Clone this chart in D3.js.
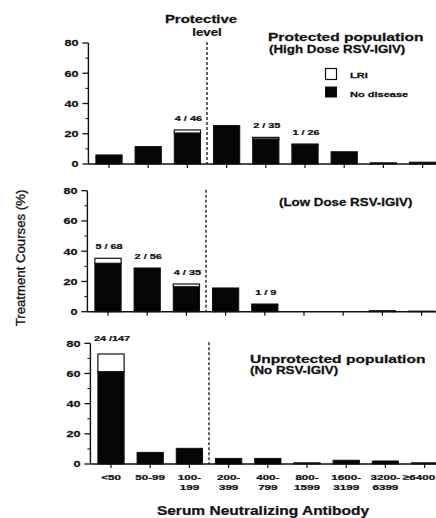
<!DOCTYPE html>
<html>
<head>
<meta charset="utf-8">
<script src="https://cdn.jsdelivr.net/npm/d3@7"></script>
<style>
  html, body { margin: 0; padding: 0; background: #fff; }
  svg { display: block; font-family: "Liberation Sans", Arial, Helvetica, sans-serif; }
</style>
</head>
<body>
<div id="chart"></div>
<script>
// --- data ---
const categories = ["<50", "50-99", "100-199", "200-399", "400-799", "800-1599", "1600-3199", "3200-6399", "≥6400"];

const highNoDisease = [6, 11.5, 20.5, 25.4, 16.6, 12.8, 8.1, 0.8, 1.2];
const highLRI       = [0, 0, 2, 0, 1, 0.4, 0, 0, 0];
const highCounts    = ["", "", "4 / 46", "", "2 / 35", "1 / 26", "", "", ""];

const lowNoDisease = [32, 28.9, 16.5, 15.7, 5.1, 0, 0, 0.7, 0.4];
const lowLRI       = [3.3, 0, 1.8, 0, 0, 0, 0, 0, 0];
const lowCounts    = ["5 / 68", "2 / 56", "4 / 35", "", "1 / 9", "", "", "", ""];

const noneNoDisease = [61.2, 7.7, 10.4, 3.7, 3.7, 0.8, 2.5, 2, 0.8];
const noneLRI       = [11.7, 0, 0, 0, 0, 0, 0, 0, 0];
const noneCounts    = ["24 /147", "", "", "", "", "", "", "", ""];

const yTicks = [0, 20, 40, 60, 80];
const yMinorTicks = [10, 30, 50, 70];

// --- layout ---
const W = 436, H = 518;
const ink = "#111";

const svg = d3.select("#chart").append("svg")
  .attr("width", W)
  .attr("height", H);

// text with the horizontal stretch of the scanned original
function txt(parent, x, y, s, size, opts = {}) {
  const { weight = "bold", anchor = "start", sx = 1.4 } = opts;
  return parent.append("text")
    .attr("transform", `translate(${x},${y}) scale(${sx},1)`)
    .attr("text-anchor", anchor)
    .attr("font-size", size)
    .attr("font-weight", weight)
    .attr("fill", ink)
    .attr("stroke", ink)
    .attr("stroke-width", 0.25)
    .text(s);
}

const x = d3.scaleBand()
  .domain(categories)
  .range([89.4, 442.2])
  .paddingInner(0.33)
  .paddingOuter(0.165);

const panels = [
  { nd: highNoDisease, lri: highLRI, counts: highCounts, top: 43, bottom: 164, dx: 0 },
  { nd: lowNoDisease, lri: lowLRI, counts: lowCounts, top: 190.7, bottom: 311.7, dx: -1 },
  { nd: noneNoDisease, lri: noneLRI, counts: noneCounts, top: 343.3, bottom: 464, dx: 2 }
];

panels.forEach((p, pi) => {
  const g = svg.append("g").attr("transform", `translate(${p.dx},0)`);
  const y = d3.scaleLinear().domain([0, 80]).range([p.bottom, p.top]);
  const x0 = x.range()[0] - 1;

  // y axis
  g.append("line")
    .attr("x1", x0).attr("x2", x0)
    .attr("y1", y(80)).attr("y2", y(0))
    .attr("stroke", ink).attr("stroke-width", 1.4);
  g.selectAll(".ymaj").data(yTicks).join("line")
    .attr("x1", x0 - 6).attr("x2", x0)
    .attr("y1", d => y(d)).attr("y2", d => y(d))
    .attr("stroke", ink).attr("stroke-width", 1.3);
  g.selectAll(".ymin").data(yMinorTicks).join("line")
    .attr("x1", x0 - 3).attr("x2", x0)
    .attr("y1", d => y(d)).attr("y2", d => y(d))
    .attr("stroke", ink).attr("stroke-width", 1);
  yTicks.forEach(t => txt(g, x0 - 10, y(t) + 3.3, String(t), 9, { anchor: "end" }));

  // x axis
  g.append("line")
    .attr("x1", x0).attr("x2", W + 10)
    .attr("y1", y(0)).attr("y2", y(0))
    .attr("stroke", ink).attr("stroke-width", 1.4);
  g.selectAll(".xt").data(categories).join("line")
    .attr("x1", d => x(d) + x.bandwidth() / 2).attr("x2", d => x(d) + x.bandwidth() / 2)
    .attr("y1", y(0)).attr("y2", y(0) + 4)
    .attr("stroke", ink).attr("stroke-width", 1.2);

  // bars: no disease (black) with LRI (white) stacked on top
  g.selectAll(".nd").data(categories).join("rect")
    .attr("x", d => x(d))
    .attr("width", x.bandwidth())
    .attr("y", (d, i) => y(p.nd[i]))
    .attr("height", (d, i) => y(0) - y(p.nd[i]))
    .attr("fill", "#050505")
    .attr("stroke", ink).attr("stroke-width", 1);
  g.selectAll(".lri").data(categories.filter((d, i) => p.lri[i] > 0)).join("rect")
    .attr("x", d => x(d))
    .attr("width", x.bandwidth())
    .attr("y", d => { const i = categories.indexOf(d); return y(p.nd[i] + p.lri[i]); })
    .attr("height", d => { const i = categories.indexOf(d); return y(p.nd[i]) - y(p.nd[i] + p.lri[i]); })
    .attr("fill", "#fff")
    .attr("stroke", ink).attr("stroke-width", 1.2);

  // count labels above bars
  categories.forEach((c, i) => {
    if (!p.counts[i]) return;
    const top = y(p.nd[i] + p.lri[i]);
    txt(g, x(c) + x.bandwidth() / 2 + 1, top - (pi === 2 ? 13 : 9), p.counts[i], 7.5, { anchor: "middle", sx: 1.45 });
  });

  // protective level dashed line
  const xd = (x(categories[2]) + x.bandwidth() + x(categories[3])) / 2;
  g.append("line")
    .attr("x1", xd).attr("x2", xd)
    .attr("y1", y(80) - 1).attr("y2", y(0))
    .attr("stroke", ink).attr("stroke-width", 1.3)
    .attr("stroke-dasharray", "3,2");

  // x tick labels on the bottom panel only
  if (pi === 2) {
    categories.forEach(c => {
      let cx = x(c) + x.bandwidth() / 2;
      const k0 = c.indexOf("-");
      const parts = c.length > 5 && k0 > 0 ? [c.slice(0, k0 + 1), c.slice(k0 + 1)] : [c];
      if (c.startsWith("≥")) cx = Math.min(cx, W - p.dx - 17);
      parts.forEach((s, k) => txt(g, cx, y(0) + 15.5 + k * 10, s, 8, { anchor: "middle", sx: 1.45 }));
    });
  }
});

// --- annotations ---
txt(svg, 201, 23, "Protective", 11.5, { anchor: "middle", sx: 1.3 });
txt(svg, 207, 36, "level", 11.5, { anchor: "middle", sx: 1.15 });

txt(svg, 268, 40.5, "Protected population", 11.2, { sx: 1.39 });
txt(svg, 269, 53, "(High Dose RSV-IGIV)", 10.5, { sx: 1.27 });

svg.append("rect").attr("x", 325.5).attr("y", 68.5).attr("width", 11).attr("height", 11)
  .attr("fill", "#fff").attr("stroke", ink).attr("stroke-width", 1.2);
txt(svg, 350, 78, "LRI", 8, { sx: 1.38 });
svg.append("rect").attr("x", 325.5).attr("y", 87).attr("width", 11).attr("height", 10)
  .attr("fill", "#050505").attr("stroke", ink).attr("stroke-width", 1);
txt(svg, 350, 96.5, "No disease", 8, { sx: 1.38 });

txt(svg, 279, 205.5, "(Low Dose RSV-IGIV)", 10.5, { sx: 1.27 });

txt(svg, 250, 362.5, "Unprotected population", 11.2, { sx: 1.39 });
txt(svg, 250, 373.5, "(No RSV-IGIV)", 10.5, { sx: 1.27 });

txt(svg, 263, 515, "Serum Neutralizing Antibody", 13.5, { anchor: "middle", sx: 1.15 });

svg.append("text")
  .attr("transform", "translate(25,258) rotate(-90) scale(1.1,1)")
  .attr("text-anchor", "middle")
  .attr("font-size", 12)
  .attr("fill", ink)
  .attr("stroke", ink)
  .attr("stroke-width", 0.3)
  .text("Treatment Courses (%)");
</script>
</body>
</html>
